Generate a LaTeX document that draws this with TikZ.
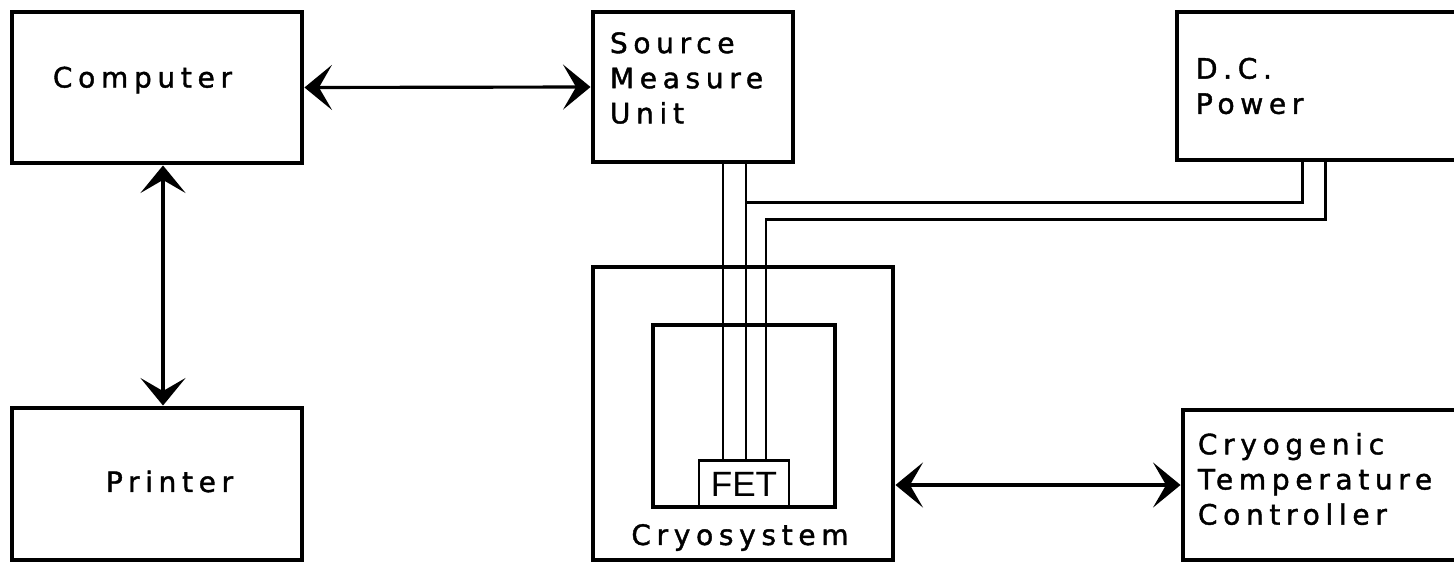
\documentclass[tikz,border=0pt]{standalone}
\usepackage{fontspec}
\setmainfont{DejaVu Sans}[LetterSpace=20, FakeBold=1.4]
\newfontfamily\fetfont{Liberation Sans}
\usetikzlibrary{arrows.meta,positioning,calc}

\begin{document}
\begin{tikzpicture}[
    box/.style={draw, line width=2.8pt, inner sep=0pt},
    lbl/.style={align=left, font=\fontsize{16}{20}\selectfont, inner sep=0pt},
    link/.style={{Stealth[length=0.55cm, width=0.9cm, inset=0.26cm]}-{Stealth[length=0.55cm, width=0.9cm, inset=0.26cm]}, line width=1.8pt},
    wire/.style={line width=1.5pt}
]
\useasboundingbox (0,0) rectangle (29.08,11.28);
\clip (0,0) rectangle (29.08,11.28);

\node[box, minimum width=5.8cm, minimum height=3.02cm] (comp) at (3.14,9.53) {};
\node[box, minimum width=5.8cm, minimum height=3.04cm] (prn) at (3.14,1.6) {};
\node[box, minimum width=4cm, minimum height=3cm] (smu) at (13.86,9.54) {};
\node[box, minimum width=6cm, minimum height=2.96cm] (dc) at (26.54,9.56) {};
\node[box, minimum width=6cm, minimum height=5.86cm] (cryo) at (14.86,3.01) {};
\node[box, line width=2pt, minimum width=3.64cm, minimum height=3.64cm] (dewar) at (14.88,2.96) {};
\node[box, line width=1.4pt, minimum width=1.8cm, minimum height=0.94cm, anchor=south, font=\fetfont\fontsize{20}{20}\selectfont] (fet) at (dewar.south) {FET};
\node[box, minimum width=6cm, minimum height=3cm] (ctrl) at (26.66,1.58) {};

\node[lbl, anchor=west] (comptxt) at ($(comp.west)+(0.86,0.15)$) {Computer};
\node[lbl, anchor=west] (prntxt) at ($(prn.west)+(1.92,0.05)$) {Printer};
\node[lbl, anchor=west] (smutxt) at ($(smu.west)+(0.38,0.18)$) {Source\\Measure\\Unit};
\node[lbl, anchor=west] (dctxt) at ($(dc.west)+(0.42,0)$) {D.C.\\Power};
\node[lbl, anchor=west] (ctrltxt) at ($(ctrl.west)+(0.34,0.12)$) {Cryogenic\\Temperature\\Controller};
\node[lbl] (cryotxt) at ($(cryo.south)+(-0.06,0.5)$) {Cryosystem};

\coordinate (w1) at ($(fet.north)+(-0.42,0)$);
\coordinate (w2) at ($(fet.north)+(0.04,0)$);
\coordinate (w3) at ($(fet.north)+(0.44,0)$);
\coordinate (t1) at ($(smu.south)+(0,-0.76)$);
\coordinate (t2) at ($(smu.south)+(0,-1.1)$);
\coordinate (b1) at ($(dc.south west)+(2.56,0)$);
\coordinate (b2) at ($(dc.south west)+(3.02,0)$);

\draw[link] (comp.east) -- (smu.west);
\draw[link, line width=2.6pt] ([xshift=0.12cm]comp.south) -- ([xshift=0.12cm]prn.north);
\draw[link] (ctrl.west -| cryo.east) -- (ctrl.west);

\draw[wire] (smu.south -| w1) -- (w1);
\draw[wire] (smu.south -| w2) -- (w2);
\draw[wire] (b1) |- (w2 |- t1);
\draw[wire] (b2) |- (w3 |- t2) -- (w3);
\end{tikzpicture}
\end{document}
